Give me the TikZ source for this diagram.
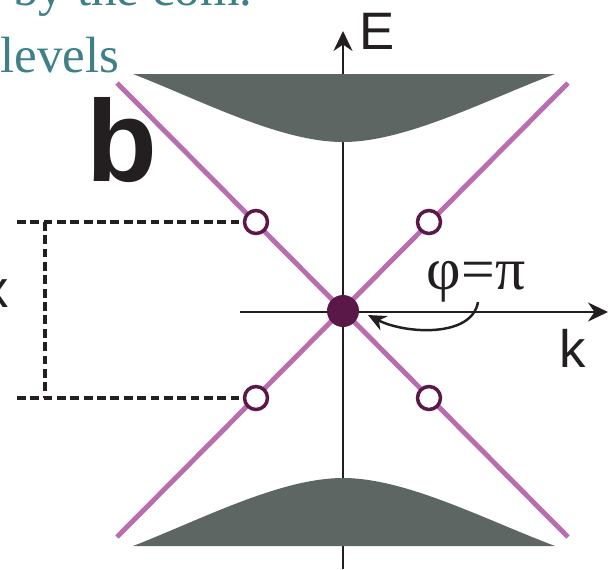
\documentclass[tikz,border=0pt]{standalone}
\usepackage{fontspec}
\setmainfont{Liberation Serif}
\newfontfamily\arialfont{Liberation Sans}
\usetikzlibrary{arrows.meta}
\definecolor{conecol}{HTML}{B96DB1}
\definecolor{diraccol}{HTML}{5A1848}
\definecolor{bandcol}{HTML}{5E6664}
\definecolor{captcol}{HTML}{3E8088}
\definecolor{inkcol}{HTML}{231F20}
\tikzset{
  axisline/.style={draw=inkcol, line width=1.4pt, -{Stealth[length=4mm, width=3.8mm]}},
  coneline/.style={draw=conecol, line width=2.8pt},
  hole/.style={circle, draw=diraccol, fill=white, line width=2pt,
               minimum size=0.46cm, inner sep=0pt},
  dotnode/.style={circle, fill=diraccol, minimum size=0.64cm, inner sep=0pt},
  guide/.style={draw=inkcol, line width=2pt, dash pattern=on 5pt off 2.6pt},
  curl/.style={draw=inkcol, line width=1.4pt, -{Stealth[length=3.6mm, width=3.2mm]}},
  axlabel/.style={font=\arialfont\fontsize{30}{30}\selectfont, text=inkcol, inner sep=0pt},
  capt/.style={font=\fontsize{29}{29}\selectfont, text=captcol, inner sep=0pt},
}

\begin{document}
\begin{tikzpicture}[x=0.02cm, y=-0.02cm]
  \useasboundingbox (0,0) rectangle (609,569);
  % caption text cut by the frame
  \node[capt, anchor=base west] (line1) at (13,5) {by the com.};
  \node[capt, anchor=base west] (line2) at (0,72) {levels};
  % axes
  \coordinate (eb) at (343,569);
  \coordinate (et) at (343,31);
  \coordinate (kl) at (240,312);
  \coordinate (kr) at (608,312);
  \draw[axisline] (eb) -- (et);
  \draw[axisline] (kl) -- (kr);
  \node[axlabel] (elab) at (377,31) {E};
  \node[axlabel] (klab) at (573,348) {k};
  % bands
  \fill[bandcol] (133,74) -- (555,74) .. controls (486,100) and (406,142) .. (343,142)
    .. controls (280,142) and (200,100) .. (133,74) -- cycle;
  \fill[bandcol] (133,546) -- (555,546) .. controls (486,520) and (406,478) .. (343,478)
    .. controls (280,478) and (200,520) .. (133,546) -- cycle;
  % cone
  \coordinate (ctl) at (117,83);
  \coordinate (ctr) at (568,83);
  \coordinate (cbl) at (117,537);
  \coordinate (cbr) at (568,537);
  \draw[coneline] (ctl) -- (cbr);
  \draw[coneline] (ctr) -- (cbl);
  % states
  \node[hole] (ul) at (256,222) {};
  \node[hole] (ur) at (429,222) {};
  \node[hole] (ll) at (256,398) {};
  \node[hole] (lr) at (429,398) {};
  \node[dotnode] (gam) at (343,311) {};
  % spacing marker
  \coordinate (gu) at (17,222);
  \coordinate (gl) at (17,398);
  \coordinate (vu) at (45,222);
  \coordinate (vl) at (45,398);
  \draw[guide] (gu) -- (ul);
  \draw[guide] (gl) -- (ll);
  \draw[guide] (vu) -- (vl);
  \node[axlabel, anchor=east] (dk) at (9,294) {x};
  % berry phase
  \node[font=\fontsize{34}{34}\selectfont, text=inkcol, inner sep=0pt] (phi) at (476,282) {φ=π};
  \coordinate (cs) at (478,302);
  \draw[curl] (cs) .. controls (472,338) and (405,334) .. (368,315);
  \node[font=\arialfont\bfseries\fontsize{66}{66}\selectfont, text=inkcol, inner sep=0pt] (panel) at (122,140) {b};
\end{tikzpicture}
\end{document}
